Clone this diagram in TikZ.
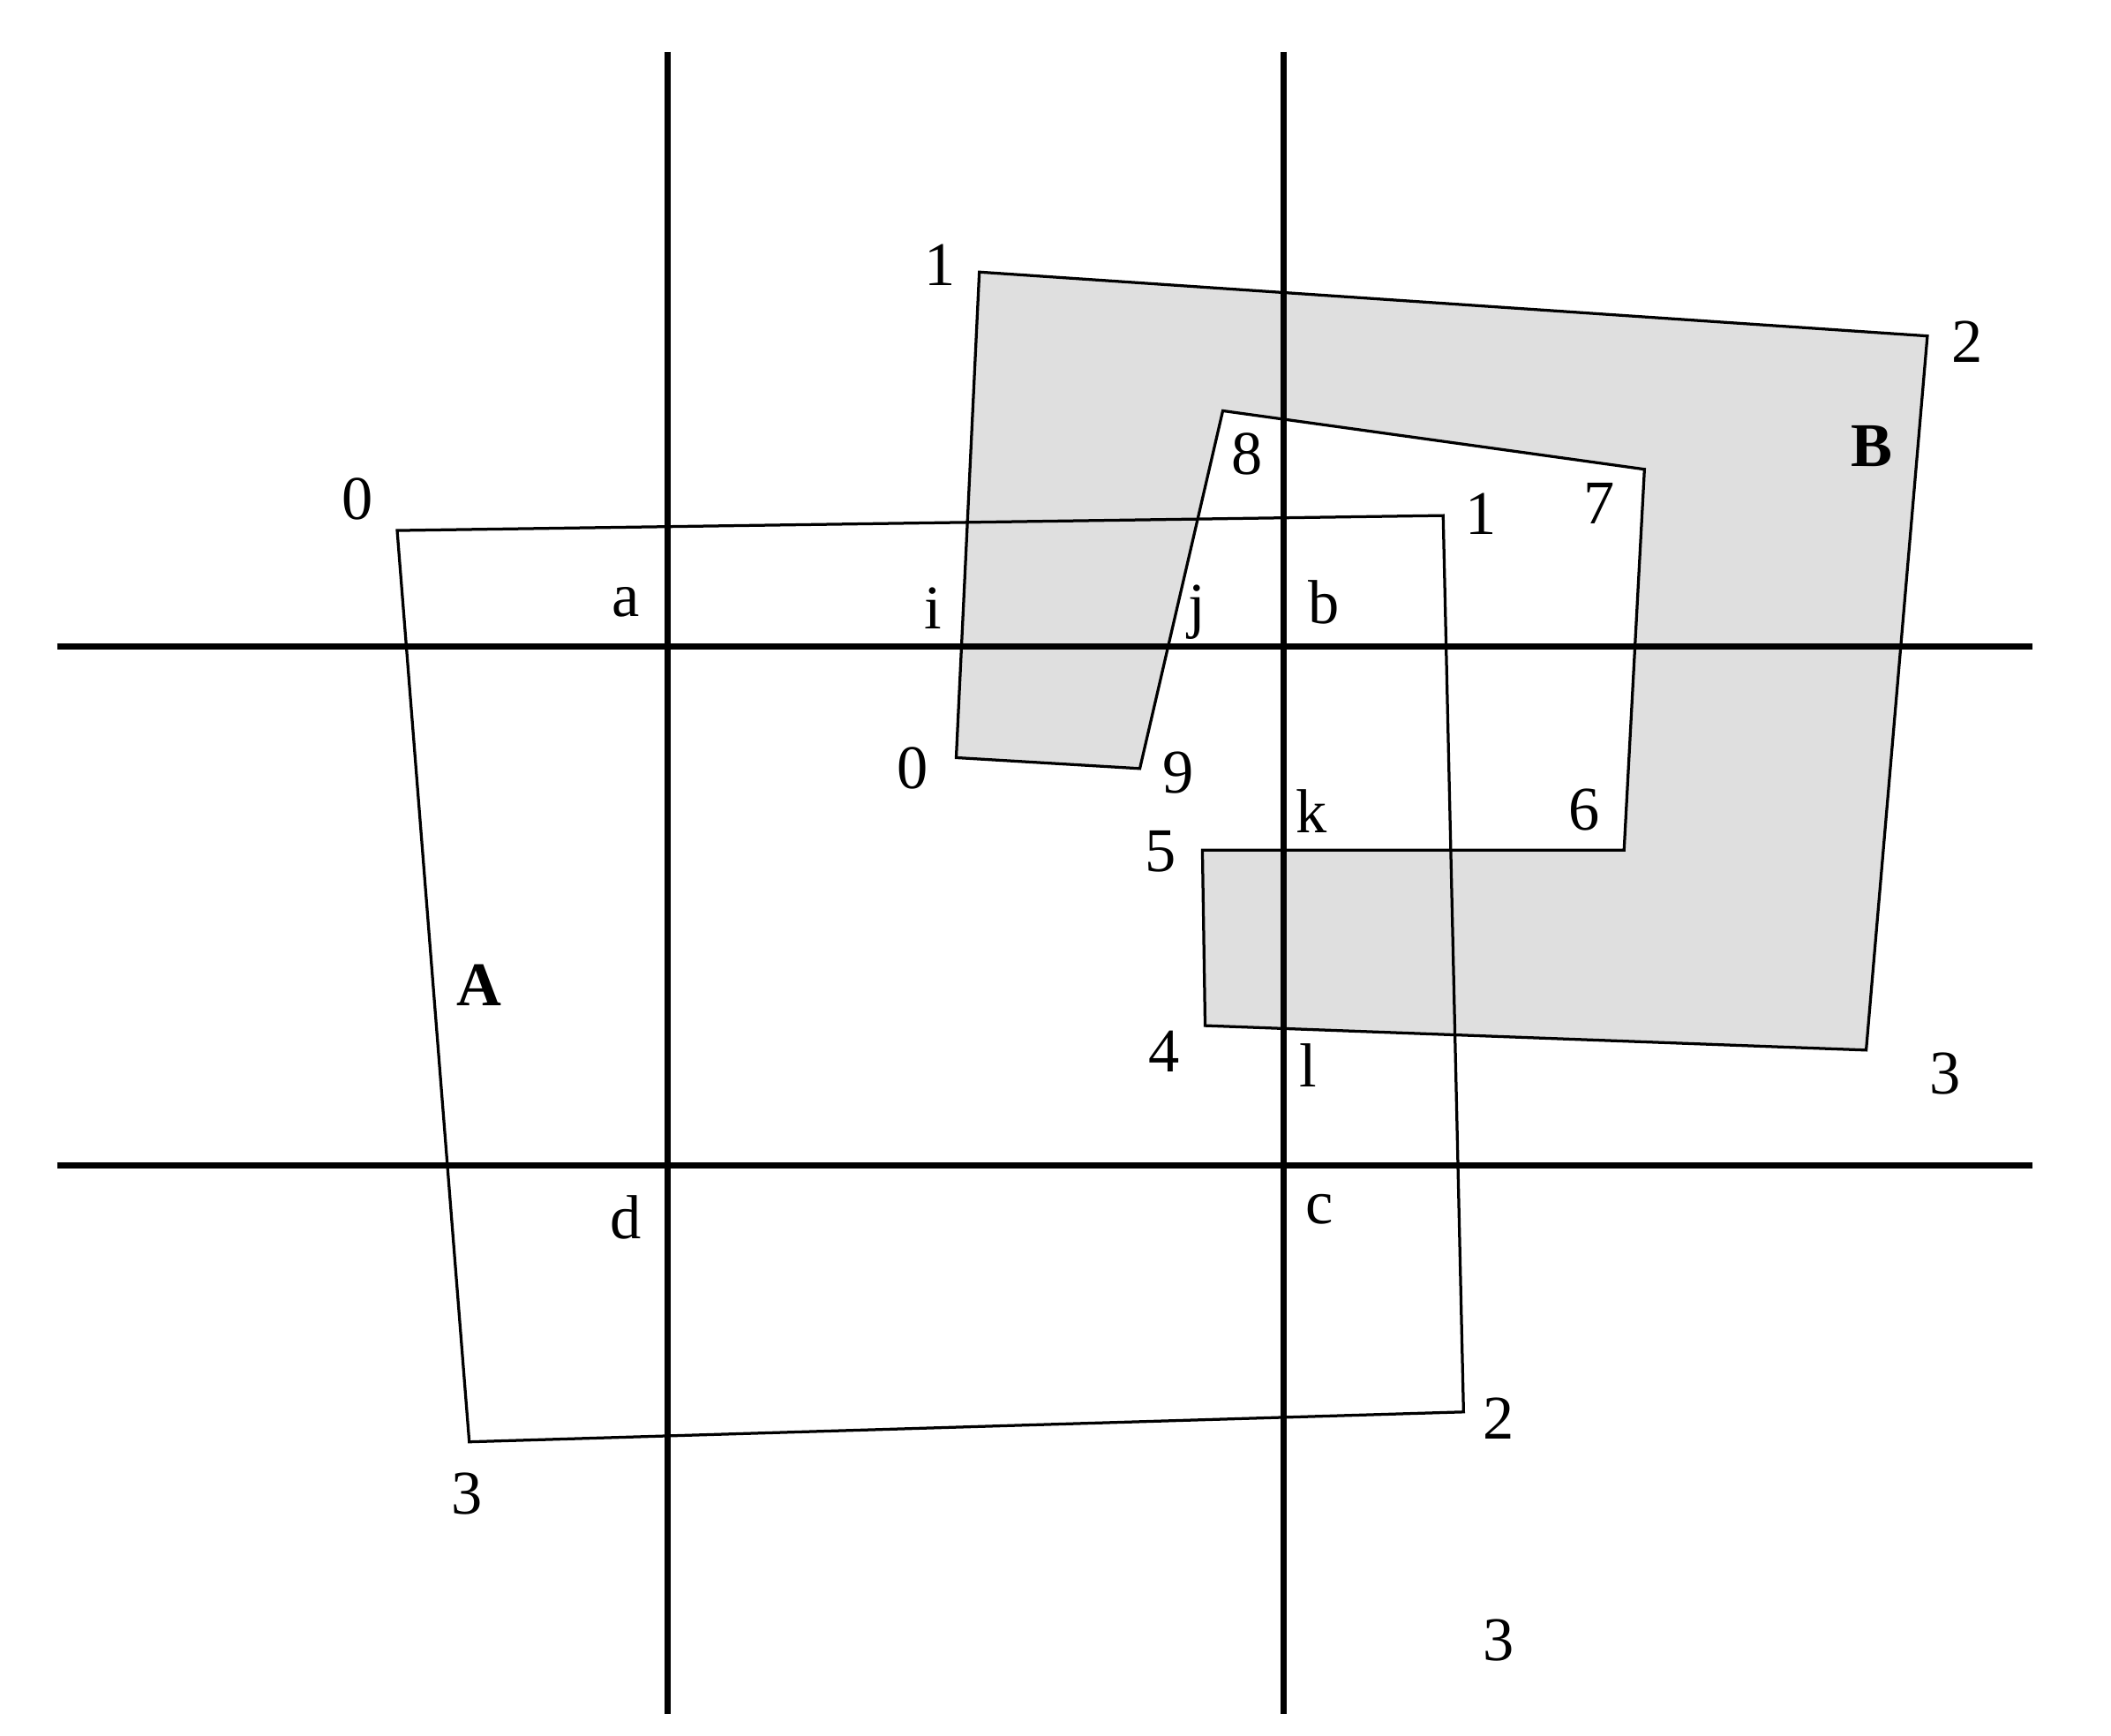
\documentclass[tikz,border=0pt]{standalone}
\usepackage{fontspec}
\setmainfont{Liberation Serif}
\begin{document}
\begin{tikzpicture}[x=1cm,y=-1cm]
	\useasboundingbox (0,0) rectangle (15.52,12.76);
	\tikzset{gridline/.style={line width=1.3pt},
	         outline/.style={line width=0.6pt,line join=miter},
	         every node/.style={inner sep=0pt,font=\fontsize{13}{15}\selectfont}}

	% polygon B
	\coordinate (b0) at (7.03,5.57);
	\coordinate (b1) at (7.20,2.00);
	\coordinate (b2) at (14.17,2.47);
	\coordinate (b3) at (13.72,7.72);
	\coordinate (b4) at (8.86,7.54);
	\coordinate (b5) at (8.84,6.25);
	\coordinate (b6) at (11.94,6.25);
	\coordinate (b7) at (12.09,3.45);
	\coordinate (b8) at (8.99,3.02);
	\coordinate (b9) at (8.38,5.65);
	\draw[outline,fill=gray!25] (b0) -- (b1) -- (b2) -- (b3) -- (b4) -- (b5)
		-- (b6) -- (b7) -- (b8) -- (b9) -- cycle;

	% polygon A
	\coordinate (a0) at (2.92,3.90);
	\coordinate (a1) at (10.61,3.79);
	\coordinate (a2) at (10.76,10.38);
	\coordinate (a3) at (3.45,10.60);
	\draw[outline] (a0) -- (a1) -- (a2) -- (a3) -- cycle;

	% clip window
	\coordinate (v1t) at (4.91,0.38);
	\coordinate (v1b) at (4.91,12.60);
	\coordinate (v2t) at (9.44,0.38);
	\coordinate (v2b) at (9.44,12.60);
	\coordinate (h1l) at (0.42,4.75);
	\coordinate (h1r) at (14.94,4.75);
	\coordinate (h2l) at (0.42,8.57);
	\coordinate (h2r) at (14.94,8.57);
	\draw[gridline] (v1t) -- (v1b);
	\draw[gridline] (v2t) -- (v2b);
	\draw[gridline] (h1l) -- (h1r);
	\draw[gridline] (h2l) -- (h2r);

	% vertex labels
	\node (la0) at (2.63,3.67) {0};
	\node (la1) at (10.89,3.78) {1};
	\node (la2) at (11.02,10.43) {2};
	\node (la3) at (3.43,10.98) {3};
	\node (la3b) at (11.02,12.06) {3};
	\node (lA) at (3.52,7.24) {\textbf{A}};

	\node (lb0) at (6.71,5.65) {0};
	\node (lb1) at (6.91,1.95) {1};
	\node (lb2) at (14.46,2.51) {2};
	\node (lb3) at (14.30,7.89) {3};
	\node (lb4) at (8.56,7.73) {4};
	\node (lb5) at (8.53,6.26) {5};
	\node (lb6) at (11.65,5.95) {6};
	\node (lb7) at (11.76,3.70) {7};
	\node (lb8) at (9.17,3.34) {8};
	\node (lb9) at (8.66,5.68) {9};
	\node (lB) at (13.76,3.28) {\textbf{B}};

	% intersection labels
	\node (pa) at (4.60,4.43) {a};
	\node (pi) at (6.86,4.47) {i};
	\node (pj) at (8.80,4.50) {j};
	\node (pb) at (9.73,4.43) {b};
	\node (pk) at (9.64,5.96) {k};
	\node (pl) at (9.62,7.83) {l};
	\node (pd) at (4.60,8.95) {d};
	\node (pc) at (9.70,8.89) {c};
\end{tikzpicture}
\end{document}
